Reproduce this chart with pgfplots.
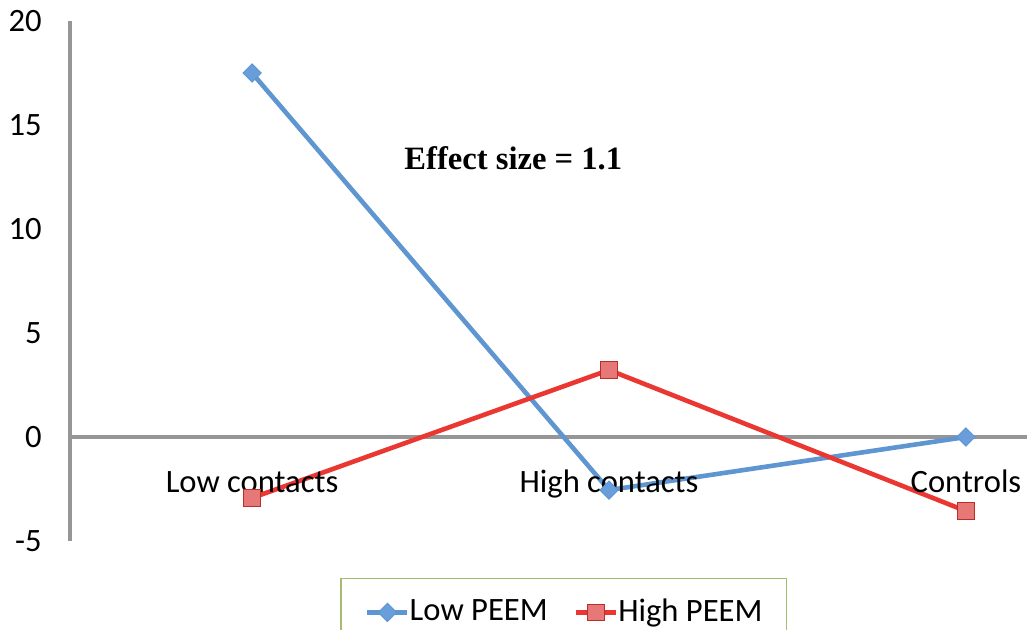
\documentclass[border=0pt]{standalone}
\usepackage{pgfplots}
\pgfplotsset{compat=1.18}
\usepackage{fontspec}
\setmainfont{Carlito}
\newfontfamily\timesf{Liberation Serif}
\definecolor{bl}{RGB}{95,150,210}
\definecolor{blf}{RGB}{105,158,218}
\definecolor{rd}{RGB}{235,55,50}
\definecolor{rdf}{RGB}{230,120,120}
\definecolor{axc}{RGB}{150,150,150}
\definecolor{lg}{RGB}{165,190,110}
\begin{document}
\fontsize{16.3}{19}\selectfont
\begin{tikzpicture}
\begin{axis}[
  at={(0pt,0pt)}, anchor=south west,
  scale only axis, width=478.5pt, height=260pt,
  xmin=-0.51, xmax=2.171, ymin=-5, ymax=20,
  axis y line=left, axis x line=middle,
  axis line style={-, draw=axc, line width=1.6pt},
  xtick={0,1,2}, xticklabels={},
  ytick={-5,0,5,10,15,20}, yticklabels={-5,0,5,10,15,20},
  major tick length=0pt,
  tick label style={font=\fontsize{16.3}{19}\selectfont},
  yticklabel style={anchor=east, xshift=-8.5pt},
  clip=false,
  legend style={at={(axis description cs:0.516,-0.071)}, anchor=north,
    legend columns=2, draw=lg, line width=0.75pt,
    inner xsep=12pt, inner ysep=8pt,
    font=\fontsize{16.3}{19}\selectfont,
    nodes={inner xsep=0pt, inner ysep=2pt},
    /tikz/every even column/.append style={column sep=13pt}},
  legend image code/.code={\draw[mark repeat=2,mark phase=2] plot coordinates {(0pt,0pt)(10pt,0pt)(20pt,0pt)};},
]
\addplot[bl, line width=2.3pt, mark=square*, mark size=3.2pt,
  mark options={rotate=45, fill=blf, draw=bl, line width=0.5pt}]
  coordinates {(0,17.5) (1,-2.55) (2,0)};
\addlegendentry{Low PEEM}
\addplot[rd, line width=2.3pt, mark=square*, mark size=4.2pt,
  mark options={fill=rdf, draw=rd!80!black, line width=0.5pt}]
  coordinates {(0,-2.93) (1,3.22) (2,-3.56)};
\addlegendentry{High PEEM}
\node[anchor=base, yshift=-28pt] at (axis cs:0,0) {Low contacts};
\node[anchor=base, yshift=-28pt] at (axis cs:1,0) {High contacts};
\node[anchor=base, yshift=-28pt] at (axis cs:2,0) {Controls};
\node[anchor=base, font=\timesf\bfseries\fontsize{16.3}{19}\selectfont] at (axis cs:0.732,12.84) {Effect size = 1.1};
\end{axis}
\pgfresetboundingbox
\path[use as bounding box] (-35pt,-44.5pt) rectangle (478.5pt,270.5pt);
\end{tikzpicture}
\end{document}
